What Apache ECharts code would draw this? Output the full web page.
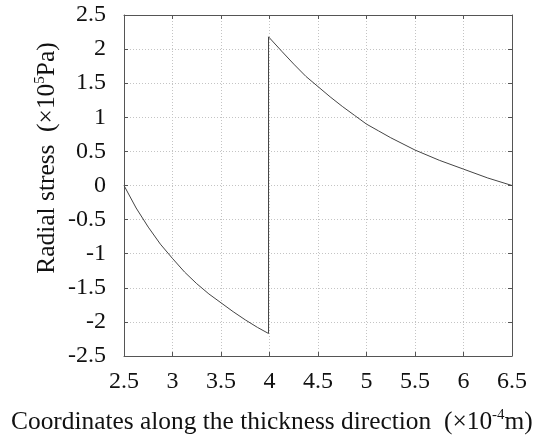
<!DOCTYPE html>
<html>
<head>
<meta charset="utf-8">
<script src="https://cdn.jsdelivr.net/npm/echarts@6/dist/echarts.min.js"></script>
<style>
  html, body { margin: 0; padding: 0; background: #fff; }
  #chart { width: 541px; height: 437px; }
</style>
</head>
<body>
<div id="chart"></div>
<script>
// inner layer (2.5 -> ~4)
const innerX = [2.5, 2.625, 2.75, 2.875, 3, 3.125, 3.25, 3.375, 3.5, 3.625, 3.75, 3.875, 3.99]
const innerY = [0, -0.33, -0.61, -0.86, -1.07, -1.27, -1.44, -1.59, -1.72, -1.85, -1.97, -2.08, -2.17]
// outer layer (~4 -> 6.5)
const outerX = [3.99, 4.125, 4.25, 4.375, 4.5, 4.625, 4.75, 4.875, 5, 5.125, 5.25, 5.5, 5.75, 6, 6.25, 6.5]
const outerY = [2.18, 1.97, 1.78, 1.6, 1.45, 1.3, 1.16, 1.03, 0.9, 0.8, 0.7, 0.52, 0.37, 0.24, 0.11, 0]

const xTicks = { min: 2.5, max: 6.5, interval: 0.5 }
const yTicks = { min: -2.5, max: 2.5, interval: 0.5 }

const font = 'Liberation Serif'
const data = innerX.map((x, i) => [x, innerY[i]]).concat(outerX.map((x, i) => [x, outerY[i]]))

const grid = '#c4c4c4'
const axisCol = '#555'

const baseAxis = (pos, showLabel) => ({
    type: 'value',
    position: pos,
    axisLine: { show: true, onZero: false, lineStyle: { color: axisCol, width: 1 } },
    axisTick: { show: true, inside: true, length: 4, lineStyle: { color: axisCol } },
    axisLabel: { show: showLabel, color: '#111', fontFamily: font, fontSize: 24 },
    splitLine: { show: showLabel, lineStyle: { color: grid, type: [1, 2], width: 1 } }
})

const titleRich = {
    a: { fontFamily: font, fontSize: 25.4, fill: '#111', lineHeight: 28, verticalAlign: 'middle' },
    s: { fontFamily: font, fontSize: 15, fill: '#111', lineHeight: 28, verticalAlign: 'top' }
}

let myChart = echarts.init(document.getElementById('chart'), null, { renderer: 'canvas' })
let option = {
    animation: false,
    grid: { left: 124, right: 29, top: 15, bottom: 81 },
    xAxis: [
        Object.assign(baseAxis('bottom', true), xTicks, { axisLabel: { color: '#111', fontFamily: font, fontSize: 24, margin: 14 } }),
        Object.assign(baseAxis('top', false), xTicks)
    ],
    yAxis: [
        Object.assign(baseAxis('left', true), yTicks, {
            axisLabel: { color: '#111', fontFamily: font, fontSize: 24, margin: 18 }
        }),
        Object.assign(baseAxis('right', false), yTicks)
    ],
    graphic: [{
        type: 'text',
        left: 11,
        top: 408,
        style: {
            text: '{a|Coordinates along the thickness direction  (×10}{s|-4}{a|m)}',
            rich: titleRich
        }
    }, {
        type: 'text',
        x: 47,
        y: 158,
        rotation: Math.PI / 2,
        style: {
            text: '{a|Radial stress  (×10}{s|5}{a|Pa)}',
            align: 'center',
            verticalAlign: 'middle',
            rich: titleRich
        }
    }],
    series: [{
        type: 'line',
        data,
        showSymbol: false,
        smooth: false,
        lineStyle: { color: '#444', width: 1 }
    }]
}
myChart.setOption(option)
</script>
</body>
</html>
